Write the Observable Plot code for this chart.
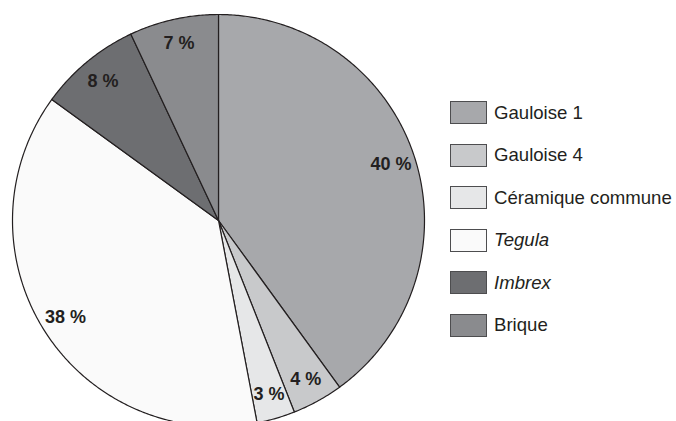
<!DOCTYPE html>
<html>
<head>
<meta charset="utf-8">
<script src="https://cdn.jsdelivr.net/npm/d3@7"></script>
<script src="https://cdn.jsdelivr.net/npm/@observablehq/plot@0.6"></script>
<style>
  html, body { margin: 0; padding: 0; background: #fff; }
  #wrap { position: relative; width: 676px; height: 421px; overflow: hidden; font-family: "Liberation Sans", Arial, sans-serif; }
  #legend { position: absolute; left: 450px; top: 101px; }
  .row { display: flex; align-items: center; height: 23px; margin-bottom: 19.5px; }
  .sw { box-sizing: border-box; width: 37px; height: 23px; border: 1px solid #4d4d4f; margin-right: 7px; }
  .lb { font-size: 18.6px; color: #231f20; white-space: nowrap; }
  .it { font-style: italic; }
</style>
</head>
<body>
<div id="wrap"><div id="chart"></div><div id="legend"></div></div>
<script>
const categories = ["Gauloise 1", "Gauloise 4", "Céramique commune", "Tegula", "Imbrex", "Brique"];
const values = [40, 4, 3, 38, 8, 7];
const labels = ["40 %", "4 %", "3 %", "38 %", "8 %", "7 %"];
const colors = ["#a7a8ab", "#c8c9cb", "#e6e7e8", "#fafafa", "#6d6e71", "#8a8b8e"];
const italic = [false, false, false, true, true, false];

const total = d3.sum(values);
const pieData = [];
const labelData = [];
let acc = 0;
categories.forEach((name, i) => {
  const a0 = acc / total * 2 * Math.PI;
  acc += values[i];
  const a1 = acc / total * 2 * Math.PI;
  pieData.push({name, x: 0, y: 0});
  const n = Math.max(2, Math.ceil((a1 - a0) / (Math.PI / 360)));
  for (let k = 0; k <= n; k++) {
    const a = a0 + (a1 - a0) * k / n;
    pieData.push({name, x: Math.sin(a), y: Math.cos(a)});
  }
  pieData.push({name, x: 0, y: 0});
  const am = (a0 + a1) / 2;
  labelData.push({label: labels[i], x: 0.88 * Math.sin(am), y: 0.88 * Math.cos(am)});
});

const chart = Plot.plot({
  width: 676,
  height: 421,
  margin: 0,
  style: {fontFamily: "'Liberation Sans', Arial, sans-serif", background: "transparent"},
  x: {domain: [-1, 1], range: [12, 424], axis: null},
  y: {domain: [-1, 1], range: [426, 14], axis: null},
  color: {domain: categories, range: colors, legend: false},
  marks: [
    Plot.line(pieData, {x: "x", y: "y", z: "name", fill: "name", stroke: "#231f20", strokeWidth: 1.2, strokeLinejoin: "round"}),
    Plot.text(labelData, {x: "x", y: "y", text: "label", fontSize: 18, fontWeight: "bold", fill: "#231f20"})
  ]
});
document.getElementById("chart").appendChild(chart);

const legend = document.getElementById("legend");
categories.forEach((name, i) => {
  const row = document.createElement("div");
  row.className = "row";
  const sw = document.createElement("div");
  sw.className = "sw";
  sw.style.background = colors[i];
  const lb = document.createElement("span");
  lb.className = "lb" + (italic[i] ? " it" : "");
  lb.textContent = name;
  row.appendChild(sw);
  row.appendChild(lb);
  legend.appendChild(row);
});
</script>
</body>
</html>
